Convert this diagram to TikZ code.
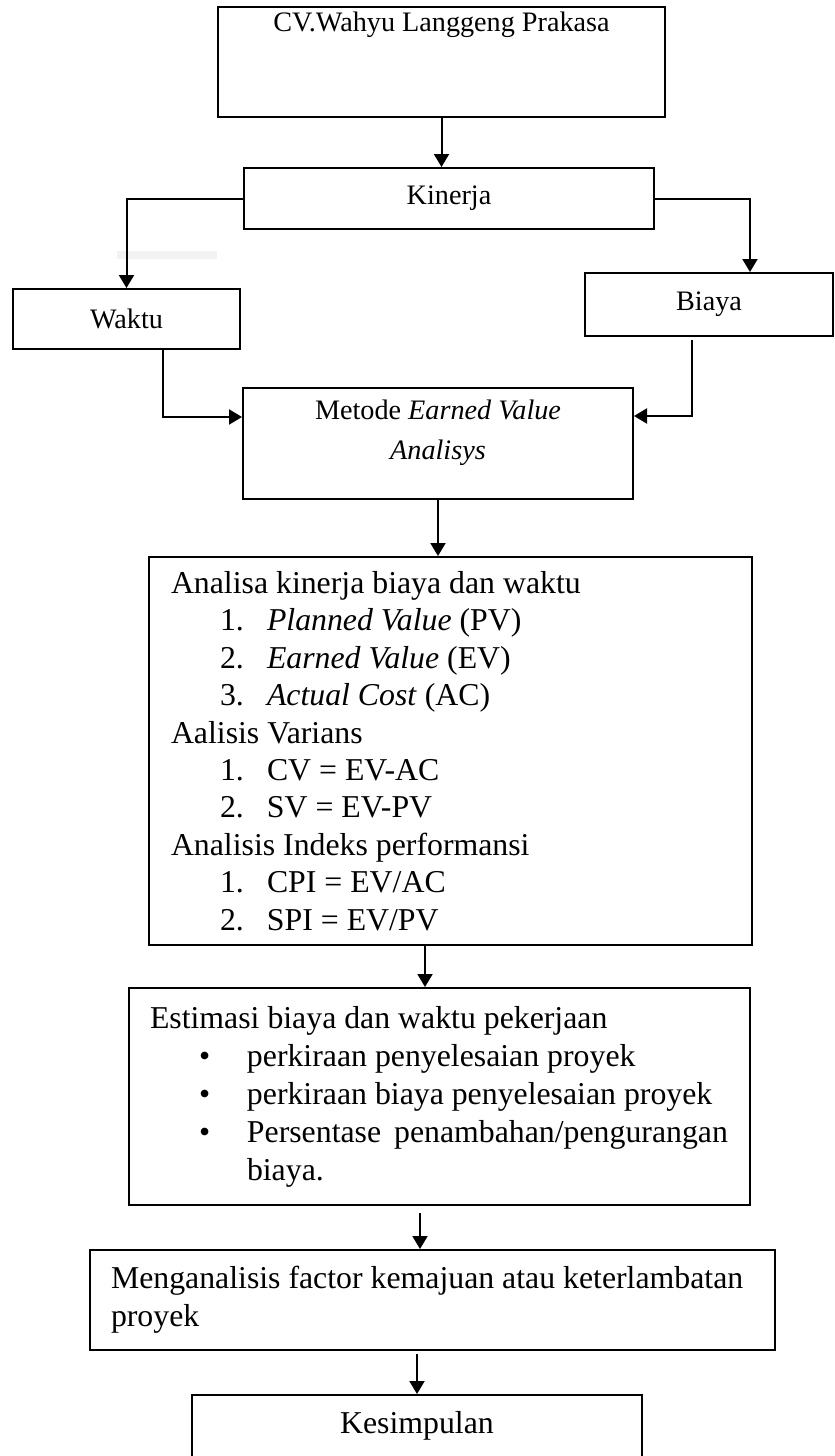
\documentclass[tikz,border=0pt]{standalone}
\usepackage{fontspec}
\setmainfont{Liberation Serif}
\usetikzlibrary{arrows.meta,positioning}
\newcommand{\numitem}[1]{\hspace*{24.5pt}\makebox[23.5pt][l]{#1}}
\newcommand{\dotitem}{\hspace*{24.5pt}\makebox[24pt][l]{\textbullet}}
\tikzset{
  box/.style={draw, line width=1pt, inner sep=0pt},
  small/.style={font=\fontsize{14.1}{20}\selectfont},
  large/.style={font=\fontsize{15.9}{18.7}\selectfont},
  arr/.style={-{Triangle[length=6.5pt,width=7.5pt]}, line width=1pt}
}
\begin{document}
\begin{tikzpicture}[x=0.5pt,y=-0.5pt]
  \useasboundingbox (0,0) rectangle (835,1456);
  \fill[gray!10] (117,251) rectangle (217,259);
  \node[box, minimum width=223.5pt, minimum height=55pt] (cv) at (441.5,62) {};
  \node[small] (cvtext) at (441.5,25) {CV.Wahyu Langgeng Prakasa};
  \node[box, small, minimum width=205pt, minimum height=30.5pt] (kinerja) at (449,198.5) {Kinerja};
  \node[box, small, minimum width=113.5pt, minimum height=30pt] (waktu) at (126.5,319) {Waktu};
  \node[box, small, minimum width=124pt, minimum height=31.5pt] (biaya) at (709,304.5) {Biaya};
  \node[box, minimum width=195pt, minimum height=55.5pt] (metode) at (438,443.5) {};
  \node[small, align=center] (metodetext) at (438,433) {Metode \textit{Earned Value}\\\textit{Analisys}};
  \node[box, large, align=flush left, inner xsep=11pt, text width=279.5pt,
        minimum width=301.5pt, minimum height=194pt] (analisa) at (450.5,751) {%
    Analisa kinerja biaya dan waktu\\
    \numitem{1.}\textit{Planned Value} (PV)\\
    \numitem{2.}\textit{Earned Value} (EV)\\
    \numitem{3.}\textit{Actual Cost} (AC)\\
    Aalisis Varians\\
    \numitem{1.}CV = EV-AC\\
    \numitem{2.}SV = EV-PV\\
    Analisis Indeks performansi\\
    \numitem{1.}CPI = EV/AC\\
    \numitem{2.}SPI = EV/PV};
  \node[box, large, font=\fontsize{15.9}{19}\selectfont, align=flush left, inner xsep=10.5pt, text width=289.5pt,
        minimum width=310.5pt, minimum height=108.5pt] (estimasi) at (439.5,1096.5) {%
    Estimasi biaya dan waktu pekerjaan\\
    \dotitem perkiraan penyelesaian proyek\\
    \dotitem perkiraan biaya penyelesaian proyek\\
    \dotitem\mbox{Persentase\hspace{2.5pt} penambahan/pengurangan}\\
    \hspace*{48.5pt}biaya.};
  \node[box, large, font=\fontsize{15.9}{19}\selectfont, align=flush left, inner xsep=10.5pt, text width=321.5pt,
        minimum width=342.5pt, minimum height=50pt] (analisis) at (432.5,1300) {%
    \mbox{Menganalisis factor kemajuan atau keterlambatan}\\
    proyek};
  \node[box, large, minimum width=225pt, minimum height=31pt] (kesimpulan) at (417,1426) {Kesimpulan};
  \draw[arr] (cv.south) -- (cv.south |- kinerja.north);
  \draw[arr] (kinerja.west) -| (waktu.north);
  \draw[arr] (kinerja.east) -| ([xshift=20.5pt]biaya.north);
  \draw[arr] ([xshift=18pt]waktu.south) |- ([yshift=13.25pt]metode.west);
  \draw[arr] ([xshift=-8.5pt,yshift=-1.5pt]biaya.south) |- ([yshift=13.75pt]metode.east);
  \draw[arr] (metode.south) -- (metode.south |- analisa.north);
  \draw[arr] ([xshift=-12.75pt]analisa.south) -- ([xshift=-12.75pt]analisa.south |- estimasi.north);
  \draw[arr] ([xshift=-9.75pt,yshift=-3.5pt]estimasi.south) -- ([xshift=-9.75pt]estimasi.south |- analisis.north);
  \draw[arr] ([yshift=-1.5pt]analisis.south -| kesimpulan.north) -- (kesimpulan.north);
\end{tikzpicture}
\end{document}
